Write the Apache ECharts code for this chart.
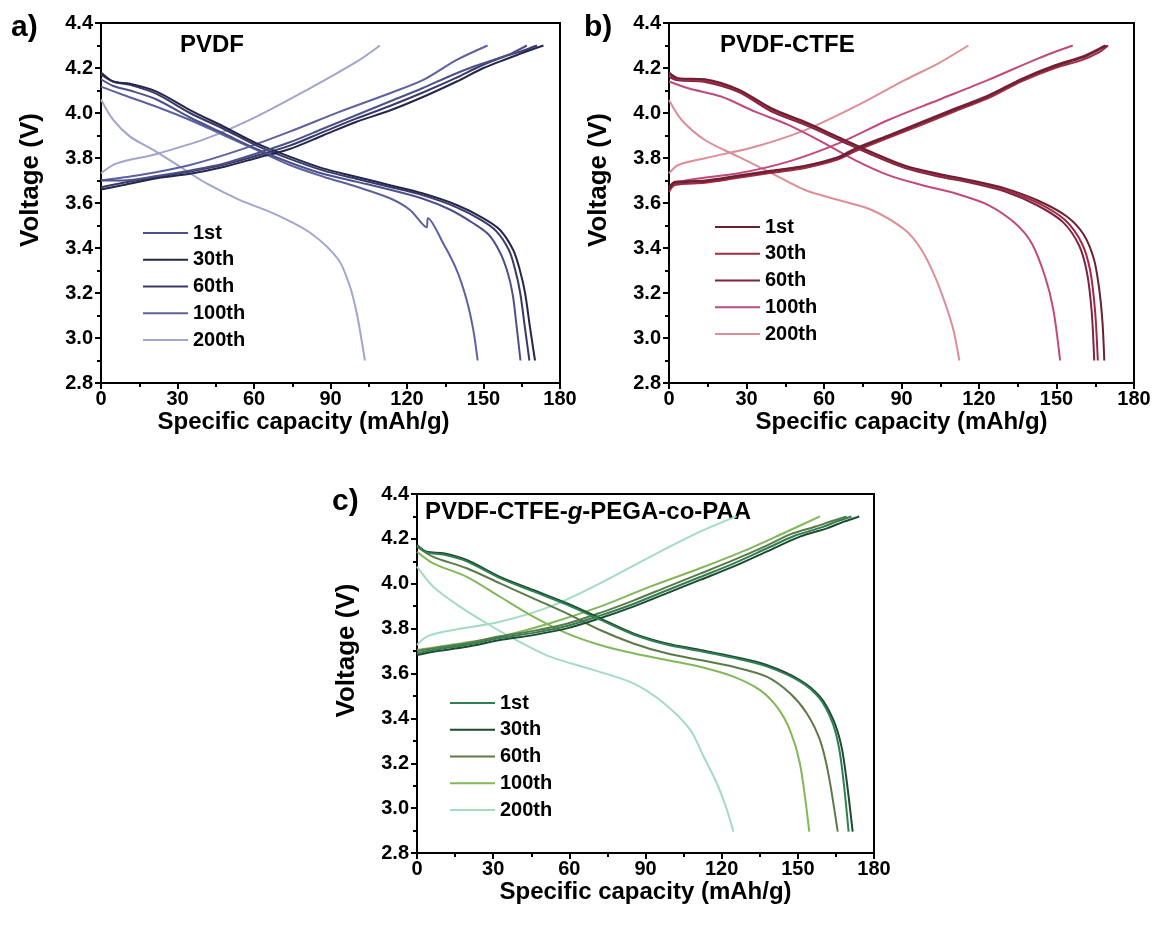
<!DOCTYPE html>
<html><head><meta charset="utf-8">
<script src="https://cdn.jsdelivr.net/npm/echarts@6/dist/echarts.min.js"></script>
<style>html,body{margin:0;padding:0;background:#fff}#c{width:1156px;height:929px}</style>
</head><body><div id="c"></div>
<script>
// ---------- data: [capacity (mAh/g), voltage (V)] ----------
const cycles = ['1st','30th','60th','100th','200th'];
const xTicks = [0,30,60,90,120,150,180];
const yTicks = [2.8,3.0,3.2,3.4,3.6,3.8,4.0,4.2,4.4];

// Panel a: PVDF
const a1Charge = [[0,3.70],[8.8,3.70],[21.8,3.72],[34.9,3.745],[48,3.775],[61,3.82],[74,3.87],[87,3.93],[100,3.99],[113,4.05],[126,4.11],[138,4.17],[147,4.21],[155,4.24],[161,4.265],[167,4.30]];
const a1Dis = [[0,4.15],[4.8,4.12],[11.4,4.10],[21.8,4.06],[34.9,3.98],[48,3.91],[61,3.84],[74,3.78],[87,3.73],[100,3.695],[113,3.66],[126,3.62],[137,3.57],[146,3.51],[152,3.46],[156.5,3.38],[159.5,3.29],[161.5,3.19],[163,3.05],[164.5,2.90]];
const a30Charge = [[0,3.66],[8.8,3.68],[21.8,3.71],[34.9,3.73],[48,3.76],[61,3.80],[74,3.84],[87,3.90],[100,3.96],[113,4.01],[126,4.07],[139.5,4.14],[150,4.20],[159,4.24],[166,4.27],[173.5,4.30]];
const a30Dis = [[0,4.18],[4.8,4.14],[11.4,4.13],[21.8,4.095],[34.9,4.013],[48,3.94],[61,3.865],[74,3.806],[87,3.754],[100,3.717],[113,3.68],[126,3.643],[139.5,3.591],[150,3.532],[156.5,3.48],[161.7,3.39],[164.3,3.30],[166.3,3.20],[168.2,3.05],[170.2,2.90]];
const a60Charge = [[0,3.67],[8.8,3.69],[21.8,3.715],[34.9,3.74],[48,3.77],[61,3.81],[74,3.855],[87,3.915],[100,3.975],[113,4.03],[126,4.09],[139,4.155],[149,4.21],[158,4.25],[165,4.275],[171,4.30]];
const a60Dis = [[0,4.17],[4.8,4.14],[11.4,4.125],[21.8,4.085],[34.9,4.0],[48,3.93],[61,3.855],[74,3.796],[87,3.745],[100,3.708],[113,3.672],[126,3.635],[139,3.583],[149,3.525],[155,3.475],[160,3.39],[162.5,3.30],[164.4,3.20],[166.2,3.05],[168,2.90]];
const a100Charge = [[0,3.70],[15.3,3.724],[34.9,3.769],[54.5,3.836],[74,3.917],[93.7,4.006],[113.3,4.088],[126.4,4.147],[139.5,4.236],[151.6,4.30]];
const a100Dis = [[0,4.117],[8.8,4.08],[21.8,4.028],[34.9,3.969],[48,3.902],[61,3.836],[74,3.769],[87.2,3.717],[100.3,3.672],[113.3,3.621],[121.2,3.569],[127.7,3.492],[128.2,3.532],[134.2,3.421],[139.5,3.302],[143.4,3.169],[146,3.036],[147.7,2.90]];
const a200Charge = [[0,3.732],[6.1,3.776],[21.8,3.818],[41.4,3.887],[61,3.984],[80.7,4.102],[100.3,4.228],[109.4,4.30]];
const a200Dis = [[0,4.06],[4.8,3.969],[11.4,3.895],[20.5,3.836],[31,3.761],[41.4,3.687],[54.5,3.613],[67.6,3.554],[82,3.468],[93,3.35],[97.6,3.23],[100.3,3.11],[102.2,2.99],[103.5,2.90]];

// Panel b: PVDF-CTFE
const b1Charge = [[0,3.66],[2.3,3.69],[13.9,3.697],[26.8,3.719],[39.8,3.741],[52.7,3.763],[65.6,3.801],[72,3.838],[84.9,3.897],[97.8,3.956],[110.7,4.015],[123.6,4.074],[136.5,4.149],[149.4,4.208],[159.8,4.245],[166.2,4.28],[169.4,4.30]];
const b1Dis = [[0,4.18],[3.6,4.155],[13.9,4.15],[26.8,4.105],[39.8,4.02],[52.7,3.96],[65.6,3.893],[78.5,3.826],[91.4,3.766],[104.3,3.73],[117.2,3.70],[130.1,3.665],[143,3.61],[154,3.54],[160.5,3.46],[164.5,3.35],[166.5,3.22],[167.8,3.07],[168.5,2.90]];
const b30Charge = [[0,3.65],[2.3,3.68],[13.9,3.69],[26.8,3.712],[39.8,3.734],[52.7,3.756],[65.6,3.794],[72,3.83],[84.9,3.89],[97.8,3.948],[110.7,4.008],[123.6,4.066],[136.5,4.141],[149.4,4.20],[159.8,4.235],[166.2,4.268],[170,4.30]];
const b30Dis = [[0,4.17],[3.6,4.15],[13.9,4.143],[26.8,4.10],[39.8,4.013],[52.7,3.954],[65.6,3.888],[78.5,3.821],[91.4,3.761],[104.3,3.724],[117.2,3.695],[130.1,3.658],[143,3.599],[153.3,3.524],[159.8,3.421],[163,3.302],[164.9,3.124],[166,2.90]];
const b60Charge = [[0,3.67],[2.3,3.695],[13.9,3.70],[26.8,3.722],[39.8,3.744],[52.7,3.766],[65.6,3.805],[72,3.842],[84.9,3.90],[97.8,3.96],[110.7,4.02],[123.6,4.078],[136.5,4.152],[149.4,4.212],[159.8,4.25],[165.5,4.28],[168.8,4.30]];
const b60Dis = [[0,4.16],[3.6,4.145],[13.9,4.138],[26.8,4.094],[39.8,4.006],[52.7,3.947],[65.6,3.881],[78.5,3.814],[91.4,3.755],[104.3,3.718],[117.2,3.689],[130.1,3.651],[142.5,3.59],[152.5,3.515],[158.8,3.41],[161.8,3.29],[163.6,3.12],[164.6,2.90]];
const b100Charge = [[0,3.672],[7.5,3.702],[26.8,3.732],[46.2,3.784],[65.6,3.865],[84.9,3.969],[104.3,4.058],[123.6,4.147],[143,4.243],[156.3,4.30]];
const b100Dis = [[0,4.14],[7.5,4.11],[20.4,4.072],[33.3,4.006],[46.2,3.947],[59.1,3.872],[72,3.791],[84.9,3.724],[97.8,3.68],[110.7,3.643],[123.6,3.591],[134,3.51],[140.4,3.421],[145.6,3.272],[148.8,3.124],[151.4,2.90]];
const b200Charge = [[0,3.732],[3.6,3.769],[13.9,3.799],[33.3,3.85],[52.7,3.924],[72,4.028],[91.4,4.147],[104.3,4.221],[115.9,4.30]];
const b200Dis = [[0,4.058],[4.9,3.969],[13.9,3.88],[26.8,3.806],[39.8,3.732],[52.7,3.658],[65.6,3.613],[78.5,3.569],[91.4,3.48],[97.8,3.391],[103,3.272],[106.9,3.154],[110.1,3.036],[112.4,2.90]];

// Panel c: PVDF-CTFE-g-PEGA-co-PAA
const c1Charge = [[0,3.69],[6.4,3.705],[19.6,3.728],[32.7,3.758],[45.8,3.781],[59,3.812],[72.1,3.858],[85.2,3.91],[98.3,3.97],[111.5,4.03],[124.6,4.09],[137.7,4.157],[149,4.215],[159,4.25],[165.5,4.278],[171.1,4.30]];
const c1Dis = [[0,4.17],[3.8,4.14],[10.4,4.13],[19.6,4.10],[32.7,4.025],[45.8,3.966],[59,3.907],[72.1,3.84],[85.2,3.774],[98.3,3.729],[111.5,3.70],[124.6,3.67],[137.7,3.632],[150.8,3.565],[158.5,3.49],[163.5,3.385],[166.2,3.27],[168,3.12],[170,2.895]];
const c30Charge = [[0,3.682],[6.4,3.697],[19.6,3.719],[32.7,3.749],[45.8,3.771],[59,3.801],[72.1,3.846],[85.2,3.898],[98.3,3.957],[111.5,4.017],[124.6,4.076],[137.7,4.143],[150.8,4.21],[161.4,4.247],[167.9,4.276],[174.2,4.30]];
const c30Dis = [[0,4.173],[3.8,4.143],[10.4,4.136],[19.6,4.106],[32.7,4.031],[45.8,3.972],[59,3.913],[72.1,3.846],[85.2,3.779],[98.3,3.734],[111.5,3.705],[124.6,3.675],[137.7,3.638],[150.8,3.571],[158.7,3.497],[164,3.393],[167.2,3.274],[169.2,3.125],[171.6,2.895]];
const c60Charge = [[0,3.70],[6.4,3.712],[19.6,3.735],[32.7,3.766],[45.8,3.79],[59,3.822],[72.1,3.87],[85.2,3.925],[98.3,3.985],[111.5,4.045],[124.6,4.105],[137.7,4.17],[147,4.22],[157,4.255],[163.5,4.28],[169.2,4.30]];
const c60Dis = [[0,4.165],[6.4,4.12],[19.6,4.069],[32.7,4.002],[45.8,3.935],[59,3.868],[72.1,3.794],[85.2,3.734],[98.3,3.69],[111.5,3.66],[124.6,3.63],[137.7,3.586],[146.9,3.512],[153.5,3.423],[158.7,3.304],[162,3.155],[165.7,2.895]];
const c100Charge = [[0,3.705],[13,3.727],[32.7,3.764],[52.4,3.824],[72.1,3.898],[91.8,3.987],[111.5,4.069],[131.2,4.158],[144.3,4.225],[158.7,4.30]];
const c100Dis = [[0,4.143],[6.4,4.091],[19.6,4.031],[32.7,3.942],[45.8,3.853],[59,3.779],[72.1,3.727],[85.2,3.69],[98.3,3.66],[111.5,3.63],[124.6,3.586],[135.1,3.526],[141.7,3.452],[146.9,3.348],[150.8,3.20],[154.5,2.895]];
const c200Charge = [[0,3.727],[3.8,3.764],[10.4,3.786],[32.7,3.831],[52.4,3.898],[72.1,4.002],[91.8,4.12],[111.5,4.232],[125.9,4.30]];
const c200Dis = [[0,4.076],[6.4,3.987],[16.9,3.898],[27.4,3.824],[36.6,3.764],[52.4,3.675],[69.4,3.616],[85.2,3.556],[97,3.47],[107.5,3.351],[112.8,3.232],[118,3.113],[122,2.995],[124.6,2.895]];

const panelTitles = ['PVDF','PVDF-CTFE','PVDF-CTFE-g-PEGA-co-PAA'];
const panelLetters = ['a)','b)','c)'];
const xTitle = 'Specific capacity (mAh/g)';
const yTitle = 'Voltage (V)';

const panelData = [
  [[a1Charge,a1Dis],[a30Charge,a30Dis],[a60Charge,a60Dis],[a100Charge,a100Dis],[a200Charge,a200Dis]],
  [[b1Charge,b1Dis],[b30Charge,b30Dis],[b60Charge,b60Dis],[b100Charge,b100Dis],[b200Charge,b200Dis]],
  [[c1Charge,c1Dis],[c30Charge,c30Dis],[c60Charge,c60Dis],[c100Charge,c100Dis],[c200Charge,c200Dis]]
];
const palettes = [
  ['#4e5189','#25274a','#383a69','#5e619f','#a2a5cd'],
  ['#6a2130','#a52843','#7d2445','#c04a7c','#dd8e98'],
  ['#2f7f52','#1d4a30','#5c7a48','#82b75a','#a3dcc1']
];

// ---------- layout ----------
const FONT = 'Liberation Sans, Arial, Helvetica, sans-serif';
const grids = [
  {left:101, top:23, width:459, height:360},
  {left:669, top:23, width:465, height:360},
  {left:417, top:494, width:457, height:359}
];
const legendPos = [{left:143, top:223},{left:715, top:217},{left:450, top:693}];
const xNameShift = [54, 0, 0];   // right padding -> shifts title left by half

const chart = echarts.init(document.getElementById('c'), null, {renderer:'canvas'});
const option = {
  backgroundColor:'#fff',
  animation:false,
  grid: grids.map(g=>Object.assign({show:true, borderColor:'#000', borderWidth:2, backgroundColor:'transparent'}, g)),
  xAxis: grids.map((g,i)=>({
    gridIndex:i, type:'value', min:xTicks[0], max:xTicks[xTicks.length-1], interval:30,
    axisLine:{show:true, onZero:false, lineStyle:{color:'#000', width:2}},
    axisTick:{show:true, inside:false, length:6, lineStyle:{color:'#000', width:2}},
    minorTick:{show:true, splitNumber:2, length:4, lineStyle:{color:'#000', width:2}},
    splitLine:{show:false},
    axisLabel:{color:'#000', fontFamily:FONT, fontWeight:'bold', fontSize:20, margin:6},
    name:xTitle, nameLocation:'middle', nameGap:23,
    nameTextStyle:{color:'#000', fontFamily:FONT, fontWeight:'bold', fontSize:24, padding:[0,xNameShift[i],0,0]}
  })),
  yAxis: grids.map((g,i)=>({
    gridIndex:i, type:'value', min:yTicks[0], max:yTicks[yTicks.length-1], interval:0.2,
    axisLine:{show:true, onZero:false, lineStyle:{color:'#000', width:2}},
    axisTick:{show:true, inside:false, length:6, lineStyle:{color:'#000', width:2}},
    minorTick:{show:true, splitNumber:2, length:4, lineStyle:{color:'#000', width:2}},
    splitLine:{show:false},
    axisLabel:{color:'#000', fontFamily:FONT, fontWeight:'bold', fontSize:20, margin:8,
      formatter:v=>v.toFixed(1)},
    name:yTitle, nameLocation:'middle', nameGap:57,
    nameTextStyle:{color:'#000', fontFamily:FONT, fontWeight:'bold', fontSize:26, padding:[0,0,0,46]}
  })),
  legend: grids.map((g,i)=>({
    orient:'vertical', left:legendPos[i].left, top:legendPos[i].top, padding:0,
    data: cycles.map(c=>'p'+i+'|'+c),
    itemWidth:45, itemHeight:20, itemGap:6.75,
    icon:'path://M0,9 L45,9 L45,11 L0,11 Z',
    formatter: n=>n.split('|')[1],
    selectedMode:false,
    textStyle:{color:'#000', fontFamily:FONT, fontWeight:'bold', fontSize:20, lineHeight:20, padding:[0,0,0,0]}
  })),
  series: [],
  graphic: []
};
panelData.forEach((panel,i)=>{
  panel.forEach((pair,k)=>{
    pair.forEach(arr=>{
      option.series.push({
        type:'line', name:'p'+i+'|'+cycles[k], xAxisIndex:i, yAxisIndex:i,
        data:arr, showSymbol:false, symbol:'none', smooth:0.3,
        lineStyle:{color:palettes[i][k], width:2}, itemStyle:{color:palettes[i][k]},
        z: 10-k
      });
    });
  });
});
option.graphic.push(
  {type:'text', left:11, top:13, style:{text:panelLetters[0], font:'bold 30px '+FONT, fill:'#000'}},
  {type:'text', left:584, top:13, style:{text:panelLetters[1], font:'bold 30px '+FONT, fill:'#000'}},
  {type:'text', left:332, top:487, style:{text:panelLetters[2], font:'bold 30px '+FONT, fill:'#000'}},
  {type:'text', left:180, top:33, style:{text:panelTitles[0], font:'bold 24px '+FONT, fill:'#000'}},
  {type:'text', left:720, top:33, style:{text:panelTitles[1], font:'bold 24px '+FONT, fill:'#000'}},
  {type:'text', left:425, top:500, style:{
    text:'{n|PVDF-CTFE-}{i|g}{n|-PEGA-co-PAA}',
    rich:{n:{font:'bold 24px '+FONT, fill:'#000'}, i:{font:'italic bold 24px '+FONT, fill:'#000'}}
  }}
);
chart.setOption(option);
</script>
</body></html>
